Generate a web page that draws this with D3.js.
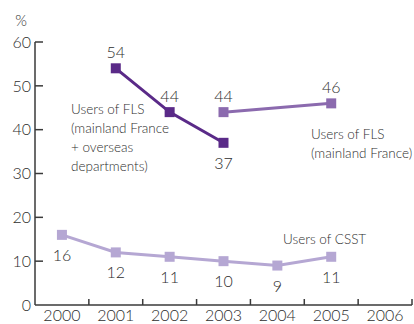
<!DOCTYPE html>
<html>
<head>
<meta charset="utf-8">
<script src="https://cdn.jsdelivr.net/npm/d3@7"></script>
<style>
  body { margin: 0; background: #fff; }
  svg { display: block; font-family: Lato, "Open Sans", sans-serif; font-weight: 300; }
</style>
</head>
<body>
<svg id="chart" width="414" height="324"></svg>
<script>
// data
const years = ["2000", "2001", "2002", "2003", "2004", "2005", "2006"]
const yTicks = [0, 10, 20, 30, 40, 50, 60]

const flsAllYears = ["2001", "2002", "2003"]
const flsAllValues = [54, 44, 37]

const flsMainYears = ["2003", "2005"]
const flsMainValues = [44, 46]

const csstYears = ["2000", "2001", "2002", "2003", "2004", "2005"]
const csstValues = [16, 12, 11, 10, 9, 11]

const textColor = "#2e2e2e"
const axisColor = "#3a3a3a"

let svg = d3.select('#chart')

let x = d3.scaleBand()
  .domain(years)
  .range([35, 412])

let y = d3.scaleLinear()
  .domain([0, 60])
  .range([305, 42])

// y axis
svg.append('line')
  .attr('x1', 35).attr('x2', 35)
  .attr('y1', y(0)).attr('y2', y(60))
  .attr('stroke', axisColor).attr('stroke-width', 1.5)

svg.selectAll('line.ytick')
  .data(yTicks.slice(1))
  .enter()
  .append('line')
  .attr('class', 'ytick')
  .attr('x1', 35).attr('x2', 43)
  .attr('y1', d => y(d)).attr('y2', d => y(d))
  .attr('stroke', axisColor).attr('stroke-width', 1.5)

svg.selectAll('text.ylabel')
  .data(yTicks)
  .enter()
  .append('text')
  .attr('class', 'ylabel')
  .attr('x', 31)
  .attr('y', d => y(d))
  .attr('dy', '0.36em')
  .attr('text-anchor', 'end')
  .attr('font-size', 16)
  .attr('fill', textColor)
  .text(d => d)

svg.append('text')
  .attr('x', 21).attr('y', 26)
  .attr('text-anchor', 'middle')
  .attr('font-size', 15)
  .attr('fill', textColor)
  .text('%')

// x axis
svg.append('line')
  .attr('x1', 35).attr('x2', 412)
  .attr('y1', y(0)).attr('y2', y(0))
  .attr('stroke', axisColor).attr('stroke-width', 1.5)

svg.selectAll('line.xtick')
  .data(years)
  .enter()
  .append('line')
  .attr('class', 'xtick')
  .attr('x1', d => x(d) + x.bandwidth()).attr('x2', d => x(d) + x.bandwidth())
  .attr('y1', y(0)).attr('y2', y(0) - 6)
  .attr('stroke', axisColor).attr('stroke-width', 1.5)

svg.selectAll('text.xlabel')
  .data(years)
  .enter()
  .append('text')
  .attr('class', 'xlabel')
  .attr('x', d => x(d) + x.bandwidth() / 2)
  .attr('y', 321)
  .attr('text-anchor', 'middle')
  .attr('font-size', 16)
  .attr('fill', textColor)
  .text(d => d)

// series
function drawSeries(yrs, vals, color, placement) {
  let pts = yrs.map((yr, i) => ({ year: yr, value: vals[i], place: placement[i] }))
  let line = d3.line()
    .x(d => x(d.year) + x.bandwidth() / 2)
    .y(d => y(d.value))

  svg.append('path')
    .datum(pts)
    .attr('d', line)
    .attr('fill', 'none')
    .attr('stroke', color)
    .attr('stroke-width', 3)

  svg.selectAll(null)
    .data(pts)
    .enter()
    .append('rect')
    .attr('x', d => x(d.year) + x.bandwidth() / 2 - 5)
    .attr('y', d => y(d.value) - 5)
    .attr('width', 10).attr('height', 10)
    .attr('fill', color)

  svg.selectAll(null)
    .data(pts)
    .enter()
    .append('text')
    .attr('x', d => x(d.year) + x.bandwidth() / 2)
    .attr('y', d => d.place == 'above' ? y(d.value) - 10 : y(d.value) + 26)
    .attr('text-anchor', 'middle')
    .attr('font-size', 16)
    .attr('fill', textColor)
    .text(d => d.value)
}

drawSeries(csstYears, csstValues, '#b5a7d3', ['below', 'below', 'below', 'below', 'below', 'below'])
drawSeries(flsMainYears, flsMainValues, '#8b6aae', ['above', 'above'])
drawSeries(flsAllYears, flsAllValues, '#5a2a88', ['above', 'above', 'below'])

// annotations
function note(lines, x0, y0) {
  let t = svg.append('text')
    .attr('x', x0).attr('y', y0)
    .attr('font-size', 13.5)
    .attr('fill', textColor)
  lines.forEach((l, i) => {
    t.append('tspan')
      .attr('x', x0)
      .attr('dy', i == 0 ? 0 : 19)
      .text(l)
  })
}

note(['Users of FLS', '(mainland France', '+ overseas', 'departments)'], 71, 114)
note(['Users of FLS', '(mainland France)'], 311, 139)
note(['Users of CSST'], 283, 244)
</script>
</body>
</html>
